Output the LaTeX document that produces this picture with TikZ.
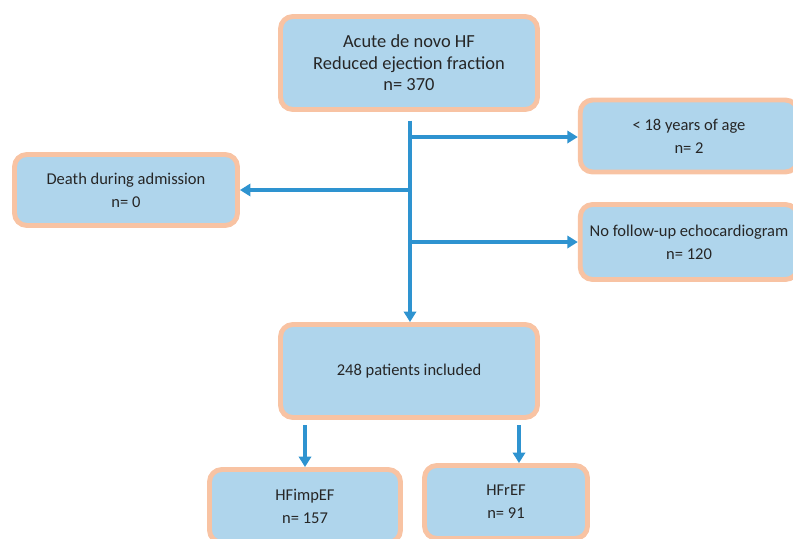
\documentclass[tikz,border=0pt]{standalone}
\usepackage{fontspec}
\setmainfont{Carlito}
\usetikzlibrary{arrows.meta, positioning, calc}
\definecolor{boxfill}{HTML}{AFD5EC}
\definecolor{boxline}{HTML}{F8C3A3}
\definecolor{arrowblue}{HTML}{2E93D0}
\tikzset{
    block/.style={draw=boxline, fill=boxfill, rectangle, rounded corners=7pt, line width=2.8pt, align=center, font=\fontsize{9.4}{13}\selectfont, text=black!85},
    arrow/.style={draw=arrowblue, -{Triangle[length=6pt, width=7pt]}, line width=1.8pt}
}
\begin{document}
\begin{tikzpicture}[x=0.02cm, y=-0.02cm]
    \useasboundingbox (0,0) rectangle (793,538);
    \node [block, minimum width=5.14cm, minimum height=1.86cm, font=\fontsize{10.5}{12.2}\selectfont] (acute) at (409,63) {Acute de novo HF\\Reduced ejection fraction\\n= 370};
    \node [block, minimum width=4.35cm, minimum height=1.44cm] (young) at (689,136) {< 18 years of age\\n= 2};
    \node [block, minimum width=4.35cm, minimum height=1.5cm] (noecho) at (689,242) {No follow-up echocardiogram\\n= 120};
    \node [block, minimum width=4.46cm, minimum height=1.42cm] (death) at (126,190) {Death during admission\\n= 0};
    \node [block, minimum width=5.14cm, minimum height=1.86cm] (incl) at (409,371) {248 patients included};
    \node [block, minimum width=3.82cm, minimum height=1.46cm] (impef) at (305,506) {HFimpEF\\n= 157};
    \node [block, minimum width=3.26cm, minimum height=1.46cm] (ref) at (506,502) {HFrEF\\n= 91};

    \coordinate (b1) at (410,137);
    \coordinate (b2) at (410,190);
    \coordinate (b3) at (410,242);

    \draw [arrow, shorten <=5pt] ([xshift=0.02cm]acute.south) -- ([xshift=0.02cm]incl.north);
    \draw [arrow] (b1) -- (b1 -| young.west);
    \draw [arrow] (b2) -- (b2 -| death.east);
    \draw [arrow] (b3) -- (b3 -| noecho.west);
    \draw [arrow, shorten <=3pt] (incl.south -| impef.north) -- (impef.north);
    \draw [arrow, shorten <=3pt] ([xshift=0.26cm]incl.south -| ref.north) -- ([xshift=0.26cm]ref.north);
\end{tikzpicture}
\end{document}
